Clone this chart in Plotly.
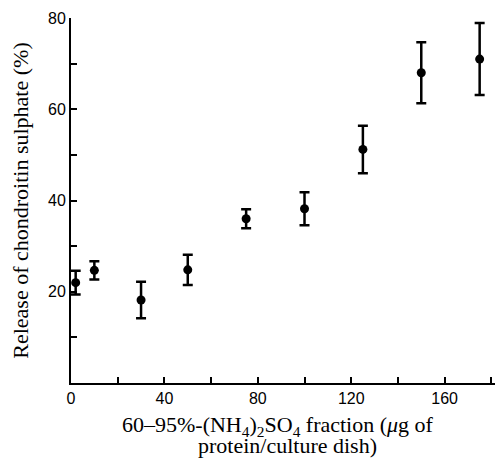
import plotly.graph_objects as go

# protein added (ug / culture dish)
protein_ug = [2, 10, 30, 50, 75, 100, 125, 150, 175]
# release of chondroitin sulphate (%)
release_pct = [22.0, 24.7, 18.2, 24.8, 36.0, 38.2, 51.2, 68.0, 71.0]
# error bar half-lengths
release_err = [2.6, 2.0, 4.0, 3.3, 2.1, 3.6, 5.2, 6.7, 7.9]

x_tickvals = [0, 20, 40, 60, 80, 100, 120, 140, 160, 180]
x_ticktext = ["0", "", "40", "", "80", "", "120", "", "160", ""]
y_tickvals = [0, 10, 20, 30, 40, 50, 60, 70, 80]
y_ticktext = ["", "", "20", "", "40", "", "60", "", "80"]

x_title_1 = "60–95%-(NH<sub>4</sub>)<sub>2</sub>SO<sub>4</sub> fraction (<i>μ</i>g of"
x_title_2 = "protein/culture dish)"
y_title = "Release of chondroitin sulphate (%)"

fig = go.Figure()
fig.add_trace(go.Scatter(
    x=protein_ug, y=release_pct,
    mode="markers",
    marker=dict(color="black", size=9),
    error_y=dict(type="data", array=release_err, visible=True,
                 color="black", thickness=2.5, width=5),
    cliponaxis=False,
    showlegend=False,
))

serif = "Liberation Serif, Times New Roman, serif"
sans = "Liberation Sans, Arial, sans-serif"

# page body has an 8px margin, so the figure is a bit smaller than the window
fig.update_layout(
    width=495, height=452,
    margin=dict(l=63, r=0, t=10, b=77),
    paper_bgcolor="white", plot_bgcolor="white",
    xaxis=dict(
        range=[0, 185], automargin=False,
        tickvals=x_tickvals, ticktext=x_ticktext,
        ticks="inside", ticklen=6, tickwidth=1.5, tickcolor="black",
        showline=True, linecolor="black", linewidth=2,
        showgrid=False, zeroline=False,
        tickfont=dict(family=sans, size=16, color="black"),
    ),
    yaxis=dict(
        range=[0, 80], automargin=False,
        tickvals=y_tickvals, ticktext=y_ticktext,
        ticks="inside", ticklen=6, tickwidth=1.5, tickcolor="black",
        showline=True, linecolor="black", linewidth=2,
        showgrid=False, zeroline=False,
        tickfont=dict(family=sans, size=16, color="black"),
        title=dict(text=y_title,
                   font=dict(family=serif, size=22, color="black"), standoff=14),
    ),
)

# two-line x title placed as annotations for tight line spacing
fig.add_annotation(text=x_title_1, xref="paper", yref="paper", x=0.48, y=-0.118,
                   xanchor="center", yanchor="middle", showarrow=False,
                   font=dict(family=serif, size=22, color="black"))
fig.add_annotation(text=x_title_2, xref="paper", yref="paper", x=0.5, y=-0.172,
                   xanchor="center", yanchor="middle", showarrow=False,
                   font=dict(family=serif, size=22, color="black"))

fig.write_html("out.html")
